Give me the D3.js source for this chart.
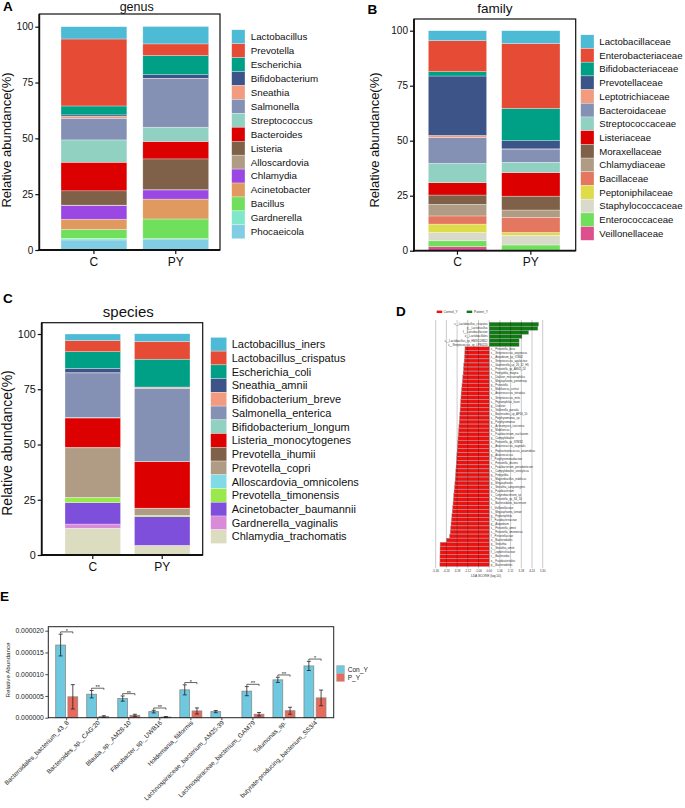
<!DOCTYPE html>
<html><head><meta charset="utf-8">
<script src="https://cdn.jsdelivr.net/npm/d3@7"></script>
<style>body{margin:0;background:#fff} svg{display:block} text{font-family:"Liberation Sans",Arial,Helvetica,sans-serif}</style>
</head><body><svg id="c" width="685" height="808"></svg>
<script>
// ---------------- DATA ----------------
const groups = ["C", "PY"];
const yTicks = [0, 25, 50, 75, 100];

const genusNames = ["Lactobacillus","Prevotella","Escherichia","Bifidobacterium","Sneathia","Salmonella","Streptococcus","Bacteroides","Listeria","Alloscardovia","Chlamydia","Acinetobacter","Bacillus","Gardnerella","Phocaeicola"];
const genusC  = [5.5, 30.0, 4.0, 0.6, 0.9, 9.7, 10.0, 12.8, 6.4, 0.2, 6.1, 4.6, 4.0, 0.7, 4.5];
const genusPY = [7.8, 5.2, 8.6, 1.6, 0.1, 21.8, 6.4, 7.8, 13.8, 0.1, 4.1, 8.9, 8.8, 0.2, 4.9];
const genusColors = ["#4dbbd5","#e64b35","#00a087","#3c5488","#f39b7f","#8491b4","#91d1c2","#dc0000","#7e6148","#b09c85","#9b47e4","#e0995e","#70e05c","#80e8c8","#80cde4"];

const familyNames = ["Lactobacillaceae","Enterobacteriaceae","Bifidobacteriaceae","Prevotellaceae","Leptotrichiaceae","Bacteroidaceae","Streptococcaceae","Listeriaceae","Moraxellaceae","Chlamydiaceae","Bacillaceae","Peptoniphilaceae","Staphylococcaceae","Enterococcaceae","Veillonellaceae"];
const familyC  = [4.5, 14.1, 2.0, 27.0, 0.9, 11.8, 8.8, 5.6, 4.2, 5.3, 3.7, 3.8, 3.8, 2.7, 1.8];
const familyPY = [5.8, 29.5, 14.7, 3.7, 0.1, 6.0, 4.7, 10.7, 6.3, 3.3, 6.9, 1.3, 4.4, 2.3, 0.3];
const familyColors = ["#4dbbd5","#e64b35","#00a087","#3c5488","#f39b7f","#8491b4","#91d1c2","#dc0000","#7e6148","#b09c85","#e4775f","#dfdc4a","#dadacb","#70e05c","#dd4f8d"];

const speciesNames = ["Lactobacillus_iners","Lactobacillus_crispatus","Escherichia_coli","Sneathia_amnii","Bifidobacterium_breve","Salmonella_enterica","Bifidobacterium_longum","Listeria_monocytogenes","Prevotella_ihumii","Prevotella_copri","Alloscardovia_omnicolens","Prevotella_timonensis","Acinetobacter_baumannii","Gardnerella_vaginalis","Chlamydia_trachomatis"];
const speciesC  = [3.0, 5.0, 7.5, 2.0, 0.1, 20.2, 0.2, 13.3, 0.2, 22.4, 0.0, 2.4, 9.7, 1.9, 12.1];
const speciesPY = [3.5, 8.0, 12.6, 0.1, 0.5, 33.1, 0.1, 21.0, 0.1, 3.2, 0.0, 0.6, 12.9, 0.2, 4.2];
const speciesColors = ["#4dbbd5","#e64b35","#00a087","#3c5488","#f39b7f","#8491b4","#91d1c2","#dc0000","#7e6148","#b09c85","#80dbe6","#9ae84c","#7d4fdb","#d98ad8","#dcdcc0"];

// LEfSe (panel D)
const ldaGroups = ["Control_Y", "Patient_Y"];
const ldaGreenNames = ["s__Lactobacillus_crispatus","g__Lactobacillus","f__Lactobacillaceae","o__Lactobacillales","s__Lactobacillus_sp_HMSC08B12","s__Streptococcus_sp_LPB0220"];
const ldaGreen = [4.89, 4.82, 3.90, 3.24, 2.96, 2.96];
const ldaRedNames = ["s__Prevotella_bivia","s__Streptococcus_anginosus","s__Atopobium_sp_ICM42","s__Streptococcus_agalactiae","s__Gardnerella_sp_26_12_H5","s__Prevotella_sp_AM42_24","s__Finegoldia_magna","s__Dialister_micraerophilus","s__Megasphaera_genomosp","g__Prevotella","s__Mobiluncus_curtisii","s__Anaerococcus_tetradius","s__Streptococcus_mitis","s__Peptoniphilus_harei","g__Dialister","s__Veillonella_parvula","s__Bacteroides_sp_AF16_10","s__Porphyromonas_sp","g__Porphyromonas","s__Actinomyces_turicensis","g__Mobiluncus","s__Fusobacterium_nucleatum","g__Campylobacter","s__Prevotella_sp_S7MS2","s__Anaerococcus_vaginalis","s__Peptostreptococcus_anaerobius","g__Anaerococcus","f__Porphyromonadaceae","s__Prevotella_disiens","s__Fusobacterium_periodonticum","s__Campylobacter_ureolyticus","g__Finegoldia","s__Mageeibacillus_indolicus","g__Megasphaera","s__Sneathia_sanguinegens","g__Fusobacterium","s__Corynebacterium_sp","s__Prevotella_sp_S4_10","s__Bacteroidales_bacterium","f__Veillonellaceae","s__Megasphaera_lornae","g__Peptoniphilus","f__Fusobacteriaceae","g__Atopobium","s__Prevotella_amnii","s__Prevotella_timonensis","f__Prevotellaceae","o__Bacteroidales","g__Sneathia","s__Sneathia_amnii","f__Leptotrichiaceae","c__Bacteroidia","o__Fusobacteriales","p__Bacteroidetes"];
const ldaRed = [2.40, 2.42, 2.45, 2.48, 2.52, 2.55, 2.58, 2.62, 2.66, 2.70,
                2.74, 2.78, 2.80, 2.83, 2.86, 2.88, 2.91, 2.94, 2.97, 3.00,
                3.03, 3.06, 3.09, 3.11, 3.14, 3.17, 3.20, 3.22, 3.25, 3.28,
                3.31, 3.34, 3.37, 3.40, 3.44, 3.48, 3.52, 3.55, 3.58, 3.62,
                3.66, 3.70, 3.74, 3.78, 3.82, 3.86, 3.92, 4.22, 4.86, 4.87,
                4.87, 4.88, 4.88, 4.89];
const ldaTicks = [-5.30, -4.24, -3.18, -2.12, -1.06, 0.00, 1.06, 2.12, 3.18, 4.24, 5.30];

// Panel E
const eSpecies = ["Bacteroidales_bacterium_43_8","Bacteroides_sp._CAG:20","Blautia_sp._AM28-10","Fibrobacter_sp._UWB16","Holdemania_filiformis","Lachnospiraceae_bacterium_AM25-39","Lachnospiraceae_bacterium_GAM79","Tolumonas_sp.","butyrate-producing_bacterium_SS3/4"];
const eGroups = ["Con_Y", "P_Y"];
const eConMean = [16.7e-6, 5.4e-6, 4.4e-6, 1.4e-6, 6.4e-6, 1.4e-6, 6.1e-6, 8.7e-6, 11.9e-6];
const eConErr  = [2.5e-6, 0.85e-6, 0.6e-6, 0.3e-6, 1.15e-6, 0.25e-6, 1.05e-6, 0.6e-6, 1.05e-6];
const ePMean   = [4.8e-6, 0.25e-6, 0.55e-6, 0.15e-6, 1.55e-6, 0.0, 0.8e-6, 1.6e-6, 4.55e-6];
const ePErr    = [2.8e-6, 0.2e-6, 0.25e-6, 0.12e-6, 0.7e-6, 0.0, 0.4e-6, 0.8e-6, 1.8e-6];
const eSig     = ["*", "**", "**", "**", "*", "", "**", "**", "*"];
const eTicks   = [0, 5e-6, 10e-6, 15e-6, 20e-6];

// ---------------- DRAW ----------------
const svg = d3.select("#c");
const FF = '"Liberation Sans",Arial,Helvetica,sans-serif';

function panelLabel(t, x, y) {
  svg.append("text").attr("x", x).attr("y", y).attr("font-size", 13.5).attr("font-weight", "bold").text(t);
}

function stackPanel(o) {
  const g = svg.append("g");
  const x = d3.scaleBand().domain(groups).range(o.barRange).paddingInner(o.pad);
  const y = d3.scaleLinear().domain([0, 100]).range([o.box[3], o.y100]);
  const rows = groups.map((gn, gi) => {
    const r = { group: gn };
    o.names.forEach((n, i) => r[n] = (gi === 0 ? o.c : o.py)[i]);
    return r;
  });
  const keys = o.names.slice().reverse();
  const series = d3.stack().keys(keys)(rows);
  series.forEach(s => {
    const col = o.colors[o.names.indexOf(s.key)];
    g.append("g").selectAll("rect").data(s).join("rect")
      .attr("x", d => x(d.data.group)).attr("width", x.bandwidth())
      .attr("y", d => y(d[1])).attr("height", d => Math.max(0, y(d[0]) - y(d[1])))
      .attr("fill", col).attr("stroke", "#fff").attr("stroke-width", 0.5).attr("stroke-opacity", 0.6);
  });
  const [bx0, by0, bx1, by1] = o.box;
  g.append("rect").attr("x", bx0).attr("y", by0).attr("width", bx1 - bx0).attr("height", by1 - by0)
    .attr("fill", "none").attr("stroke", "#111").attr("stroke-width", 1.2);
  g.append("line").attr("x1", bx0).attr("x2", bx0).attr("y1", by0).attr("y2", by1 + 0.8).attr("stroke", "#111").attr("stroke-width", 1.8);
  g.append("line").attr("x1", bx0 - 0.8).attr("x2", bx1).attr("y1", by1).attr("y2", by1).attr("stroke", "#111").attr("stroke-width", 1.8);
  const ya = g.append("g").attr("transform", `translate(${bx0},0)`)
    .call(d3.axisLeft(y).tickValues(yTicks).tickSize(4).tickPadding(2));
  ya.select(".domain").remove();
  ya.attr("font-family", FF);
  ya.selectAll("line").attr("stroke", "#111").attr("stroke-width", 1.2);
  ya.selectAll("text").attr("font-size", o.yFs).attr("fill", "#111");
  const xa = g.append("g").attr("transform", `translate(0,${by1})`)
    .call(d3.axisBottom(x).tickSize(4).tickPadding(3));
  xa.select(".domain").remove();
  xa.attr("font-family", FF);
  xa.selectAll("line").attr("stroke", "#111").attr("stroke-width", 1.2);
  xa.selectAll("text").attr("font-size", o.xFs).attr("fill", "#111");
  g.append("text").attr("transform", `translate(${o.ylabX},${o.ylabY}) rotate(-90)`)
    .attr("text-anchor", "middle").attr("font-size", o.ylabFs).attr("fill", "#111").text("Relative abundance(%)");
  g.append("text").attr("x", o.titleX).attr("y", o.titleY).attr("text-anchor", "middle")
    .attr("font-size", o.titleFs).attr("fill", "#111").text(o.title);
  // legend
  const lg = g.append("g");
  o.names.forEach((n, i) => {
    const ty = o.legTop + i * o.legStep;
    lg.append("rect").attr("x", o.legX).attr("y", ty).attr("width", o.legW).attr("height", o.legStep)
      .attr("fill", o.colors[i]).attr("stroke", "#fff").attr("stroke-width", 0.5).attr("stroke-opacity", 0.6);
    lg.append("text").attr("x", o.legTextX).attr("y", ty + o.legStep / 2 + o.legFs * 0.35)
      .attr("font-size", o.legFs).attr("fill", "#111").text(n);
  });
}

// Panel A
panelLabel("A", 3, 10.7);
stackPanel({
  names: genusNames, c: genusC, py: genusPY, colors: genusColors,
  box: [39.3, 14, 220, 250], y100: 26.7, barRange: [61, 208.7], pad: 0.195,
  yFs: 10, xFs: 12, ylabX: 10.5, ylabY: 140, ylabFs: 13,
  title: "genus", titleX: 136.7, titleY: 10.5, titleFs: 12.5,
  legX: 231.7, legW: 13.3, legTop: 29.8, legStep: 13.93, legTextX: 250.7, legFs: 9.8
});

// Panel B
panelLabel("B", 367.5, 14);
stackPanel({
  names: familyNames, c: familyC, py: familyPY, colors: familyColors,
  box: [414, 19, 575.7, 250.7], y100: 30.7, barRange: [428.3, 560], pad: 0.205,
  yFs: 10, xFs: 12, ylabX: 378.5, ylabY: 140, ylabFs: 13,
  title: "family", titleX: 495, titleY: 13, titleFs: 13.5,
  legX: 580.7, legW: 13.3, legTop: 34.8, legStep: 13.7, legTextX: 599.3, legFs: 9.6
});

// Panel C
panelLabel("C", 3, 303);
stackPanel({
  names: speciesNames, c: speciesC, py: speciesPY, colors: speciesColors,
  box: [41.7, 322.7, 202.7, 555], y100: 334, barRange: [65, 190], pad: 0.2,
  yFs: 10.8, xFs: 12, ylabX: 12, ylabY: 443, ylabFs: 14,
  title: "species", titleX: 128.3, titleY: 316.7, titleFs: 15,
  legX: 210.7, legW: 16, legTop: 337.4, legStep: 13.74, legTextX: 231.7, legFs: 11
});

// Panel D (LDA)
panelLabel("D", 396, 316);
(function () {
  const g = svg.append("g");
  const x = d3.scaleLinear().domain([-5.30, 5.30]).range([435.7, 542.7]);
  const rows = ldaGreen.map((v, i) => ({ name: ldaGreenNames[i], v: v, grp: ldaGroups[1] }))
    .concat(ldaRed.map((v, i) => ({ name: ldaRedNames[i], v: -v, grp: ldaGroups[0] })));
  const y = d3.scaleBand().domain(rows.map((d, i) => i)).range([322.3, 566.5]).paddingInner(0.06);
  const col = { Control_Y: "#f01010", Patient_Y: "#0f7a12" };
  g.selectAll("rect.bar").data(rows).join("rect").attr("class", "bar")
    .attr("x", d => Math.min(x(0), x(d.v))).attr("width", d => Math.abs(x(d.v) - x(0)))
    .attr("y", (d, i) => y(i)).attr("height", y.bandwidth())
    .attr("fill", d => col[d.grp]).attr("stroke", "#999").attr("stroke-width", 0.4);
  // grid lines on top
  g.selectAll("line.grid").data(ldaTicks).join("line").attr("class", "grid")
    .attr("x1", d => x(d)).attr("x2", d => x(d)).attr("y1", 320).attr("y2", 568.3)
    .attr("stroke", "#000").attr("stroke-opacity", 0.3).attr("stroke-width", 0.7);
  g.selectAll("text.lab").data(rows).join("text").attr("class", "lab")
    .attr("x", d => d.v > 0 ? x(0) - 1.5 : x(0) + 1.5)
    .attr("y", (d, i) => y(i) + y.bandwidth() / 2 + 1)
    .attr("text-anchor", d => d.v > 0 ? "end" : "start")
    .attr("font-size", 2.8).attr("fill", "#333").text(d => d.name);
  g.selectAll("text.tick").data(ldaTicks).join("text").attr("class", "tick")
    .attr("x", d => x(d)).attr("y", 571.5).attr("text-anchor", "middle")
    .attr("font-size", 2.9).attr("fill", "#333").text(d => d.toFixed(2));
  g.append("text").attr("x", 486).attr("y", 577).attr("text-anchor", "middle")
    .attr("font-size", 3.2).attr("fill", "#333").text("LDA SCORE (log 10)");
  // legend
  g.append("rect").attr("x", 436.7).attr("y", 310.6).attr("width", 5.5).attr("height", 2.4).attr("fill", col.Control_Y);
  g.append("text").attr("x", 443.5).attr("y", 312.8).attr("font-size", 3.2).attr("fill", "#333").text(ldaGroups[0]);
  g.append("rect").attr("x", 466.7).attr("y", 310.6).attr("width", 5.5).attr("height", 2.4).attr("fill", col.Patient_Y);
  g.append("text").attr("x", 474).attr("y", 312.8).attr("font-size", 3.2).attr("fill", "#333").text(ldaGroups[1]);
})();

// Panel E
panelLabel("E", 0, 601);
(function () {
  const g = svg.append("g");
  const box = [48.3, 626.7, 333.7, 717.7];
  const y = d3.scaleLinear().domain([0, 20e-6]).range([717.7, 630.7]);
  const x = d3.scaleBand().domain(eSpecies).range([51.2, 330.5]);
  const sub = d3.scaleBand().domain(eGroups).range([-11, 11]).paddingInner(0.2);
  const colors = { Con_Y: "#6ec8df", P_Y: "#e9695b" };
  const data = [];
  eSpecies.forEach((s, i) => {
    data.push({ s: s, grp: "Con_Y", m: eConMean[i], e: eConErr[i] });
    data.push({ s: s, grp: "P_Y", m: ePMean[i], e: ePErr[i] });
  });
  const cx = s => x(s) + x.bandwidth() / 2;
  g.selectAll("rect.b").data(data).join("rect").attr("class", "b")
    .attr("x", d => cx(d.s) + sub(d.grp)).attr("width", sub.bandwidth())
    .attr("y", d => y(d.m)).attr("height", d => y(0) - y(d.m))
    .attr("fill", d => colors[d.grp]).attr("stroke", "#8a8a8a").attr("stroke-width", d => d.m > 0 ? 0.8 : 0);
  const eb = data.filter(d => d.e > 0);
  const bc = d => cx(d.s) + sub(d.grp) + sub.bandwidth() / 2;
  g.selectAll("line.ev").data(eb).join("line").attr("class", "ev")
    .attr("x1", bc).attr("x2", bc).attr("y1", d => y(d.m - d.e)).attr("y2", d => y(d.m + d.e))
    .attr("stroke", "#222").attr("stroke-width", 0.8);
  ["lo", "hi"].forEach(k => {
    g.selectAll("line.c" + k).data(eb).join("line").attr("class", "c" + k)
      .attr("x1", d => bc(d) - 2).attr("x2", d => bc(d) + 2)
      .attr("y1", d => y(k === "lo" ? d.m - d.e : d.m + d.e)).attr("y2", d => y(k === "lo" ? d.m - d.e : d.m + d.e))
      .attr("stroke", "#222").attr("stroke-width", 0.8);
  });
  // significance brackets
  eSpecies.forEach((s, i) => {
    if (!eSig[i]) return;
    const top = Math.min(y(eConMean[i] + eConErr[i]), y(ePMean[i] + ePErr[i])) - 2.3;
    const x1 = cx(s) + sub("Con_Y") + sub.bandwidth() / 2, x2 = cx(s) + sub("P_Y") + sub.bandwidth() / 2;
    g.append("path").attr("d", `M${x1},${top + 1.6}V${top}H${x2}V${top + 1.6}`)
      .attr("fill", "none").attr("stroke", "#222").attr("stroke-width", 0.7);
    g.append("text").attr("x", (x1 + x2) / 2).attr("y", top + 1.2).attr("text-anchor", "middle")
      .attr("font-size", 5.5).attr("fill", "#222").text(eSig[i]);
  });
  g.append("rect").attr("x", box[0]).attr("y", box[1]).attr("width", box[2] - box[0]).attr("height", box[3] - box[1])
    .attr("fill", "none").attr("stroke", "#222").attr("stroke-width", 1);
  const ya = g.append("g").attr("transform", `translate(${box[0]},0)`)
    .call(d3.axisLeft(y).tickValues(eTicks).tickFormat(d3.format(".6f")).tickSize(3).tickPadding(1.5));
  ya.select(".domain").remove();
  ya.attr("font-family", FF);
  ya.selectAll("line").attr("stroke", "#222").attr("stroke-width", 0.8);
  ya.selectAll("text").attr("font-size", 6.8).attr("fill", "#222");
  g.selectAll("line.xt").data(eSpecies).join("line").attr("class", "xt")
    .attr("x1", cx).attr("x2", cx).attr("y1", box[3]).attr("y2", box[3] + 2.5)
    .attr("stroke", "#222").attr("stroke-width", 0.8);
  g.selectAll("text.xl").data(eSpecies).join("text").attr("class", "xl")
    .attr("transform", d => `translate(${cx(d) + 1},${box[3] + 4}) rotate(-45)`)
    .attr("text-anchor", "end").attr("dy", "0.35em").attr("font-size", 6.4).attr("fill", "#222").text(d => d);
  g.append("text").attr("transform", `translate(10,670) rotate(-90)`).attr("text-anchor", "middle")
    .attr("font-size", 6.2).attr("fill", "#222").text("Relative Abundance");
  eGroups.forEach((gn, i) => {
    g.append("rect").attr("x", 336.7).attr("y", 665.7 + i * 8).attr("width", 7.6).attr("height", 7.6)
      .attr("fill", colors[gn]).attr("stroke", "#aaa").attr("stroke-width", 0.6);
    g.append("text").attr("x", 347.7).attr("y", 669.5 + i * 8 + 2.3).attr("font-size", 6.6).attr("fill", "#222").text(gn);
  });
})();
</script>
</body></html>
